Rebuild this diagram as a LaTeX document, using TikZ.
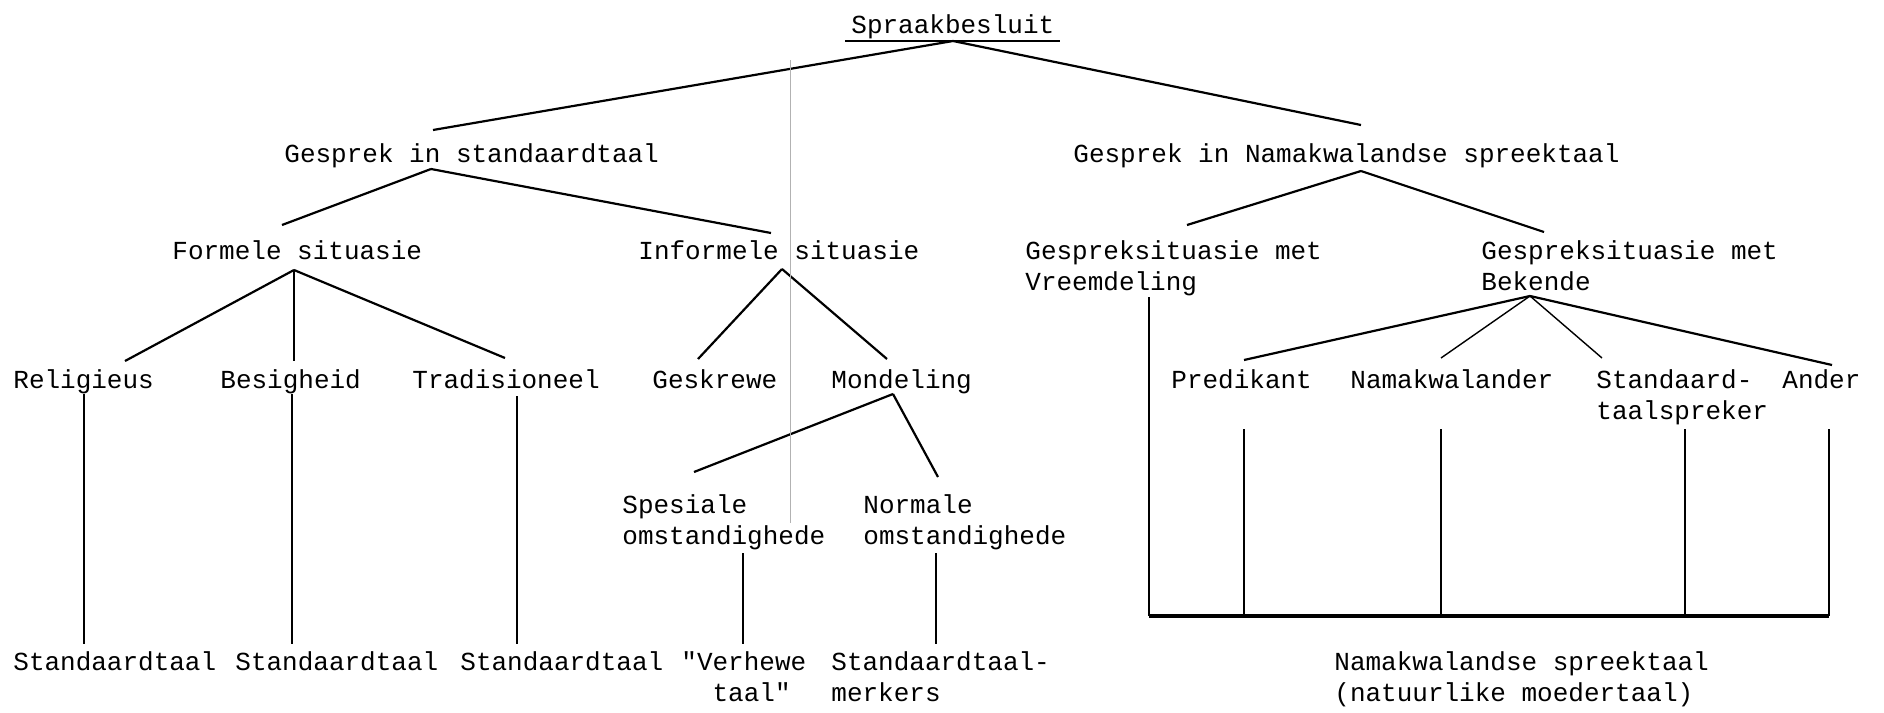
\documentclass[tikz,border=0pt]{standalone}
\usepackage{fontspec}
\setmonofont{Liberation Mono}
\begin{document}
\begin{tikzpicture}[x=0.5pt,y=-0.5pt,
  lbl/.style={anchor=base west,inner sep=0pt,font=\ttfamily\fontsize{13}{15.5}\selectfont,align=left},
  br/.style={line width=1.1pt},
  vl/.style={line width=0.7pt},
  hb/.style={line width=1.8pt},
  scan/.style={gray!60,line width=0.4pt}]
\useasboundingbox (0,0) rectangle (1884,712);
% labels (multi-line nodes: base = baseline of last line)
\node[lbl] (sb) at (851,33) {Spraakbesluit};
\node[lbl] (gs) at (284,162) {Gesprek in standaardtaal};
\node[lbl] (gn) at (1073,162) {Gesprek in Namakwalandse spreektaal};
\node[lbl] (fs) at (172,259) {Formele situasie};
\node[lbl] (is) at (638,259) {Informele situasie};
\node[lbl] (gv) at (1025,290) {Gespreksituasie met\\Vreemdeling};
\node[lbl] (gb) at (1481,290) {Gespreksituasie met\\Bekende};
\node[lbl] (re) at (13,388) {Religieus};
\node[lbl] (be) at (220,388) {Besigheid};
\node[lbl] (tr) at (412,388) {Tradisioneel};
\node[lbl] (ge) at (652,388) {Geskrewe};
\node[lbl] (mo) at (831,388) {Mondeling};
\node[lbl] (pr) at (1171,388) {Predikant};
\node[lbl] (na) at (1350,388) {Namakwalander};
\node[lbl] (st) at (1596,419) {Standaard-\\taalspreker};
\node[lbl] (an) at (1782,388) {Ander};
\node[lbl] (sp) at (622,544) {Spesiale\\omstandighede};
\node[lbl] (no) at (863,544) {Normale\\omstandighede};
\node[lbl] (r1) at (13,670) {Standaardtaal};
\node[lbl] (r2) at (235,670) {Standaardtaal};
\node[lbl] (r3) at (460,670) {Standaardtaal};
\node[lbl] (r4) at (681,701) {"Verhewe\\\phantom{xx}taal"};
\node[lbl] (r5) at (831,701) {Standaardtaal-\\merkers};
\node[lbl] (r6) at (1334,701) {Namakwalandse spreektaal\\(natuurlike moedertaal)};
% underline
\coordinate (ul-l) at (845,41); \coordinate (ul-r) at (1060,41);
\draw[line width=1.4pt] (ul-l) -- (ul-r);
% apex and end points
\coordinate (sb-a) at (953,41);
\coordinate (gs-t) at (433,130); \coordinate (gn-t) at (1361,125);
\coordinate (gs-a) at (431,169);
\coordinate (fs-t) at (282,225); \coordinate (is-t) at (771,233);
\coordinate (gn-a) at (1361,171);
\coordinate (gv-t) at (1187,225); \coordinate (gb-t) at (1544,232);
\coordinate (fs-a) at (294,270);
\coordinate (re-t) at (125,361); \coordinate (be-t) at (294,361); \coordinate (tr-t) at (505,358);
\coordinate (is-a) at (782,269);
\coordinate (ge-t) at (698,359); \coordinate (mo-t) at (887,359);
\coordinate (mo-a) at (893,394);
\coordinate (sp-t) at (694,472); \coordinate (no-t) at (938,477);
\coordinate (gb-a) at (1530,296);
\coordinate (pr-t) at (1244,360); \coordinate (na-t) at (1441,358);
\coordinate (st-t) at (1602,358); \coordinate (an-t) at (1832,365);
% branches
\draw[br] (sb-a) -- (gs-t);
\draw[br] (sb-a) -- (gn-t);
\draw[br] (gs-a) -- (fs-t);
\draw[br] (gs-a) -- (is-t);
\draw[br] (gn-a) -- (gv-t);
\draw[br] (gn-a) -- (gb-t);
\draw[br] (fs-a) -- (re-t);
\draw[vl] (fs-a) -- (be-t);
\draw[br] (fs-a) -- (tr-t);
\draw[br] (is-a) -- (ge-t);
\draw[br] (is-a) -- (mo-t);
\draw[br] (mo-a) -- (sp-t);
\draw[br] (mo-a) -- (no-t);
\draw[br] (gb-a) -- (pr-t);
\draw[vl] (gb-a) -- (na-t);
\draw[vl] (gb-a) -- (st-t);
\draw[br] (gb-a) -- (an-t);
% verticals to outcomes
\coordinate (re-b) at (84,394); \coordinate (r1-t) at (84,644);
\coordinate (be-b) at (292,394); \coordinate (r2-t) at (292,644);
\coordinate (tr-b) at (517,396); \coordinate (r3-t) at (517,644);
\coordinate (sp-b) at (743,553); \coordinate (r4-t) at (743,644);
\coordinate (no-b) at (936,553); \coordinate (r5-t) at (936,644);
\draw[vl] (re-b) -- (r1-t);
\draw[vl] (be-b) -- (r2-t);
\draw[vl] (tr-b) -- (r3-t);
\draw[vl] (sp-b) -- (r4-t);
\draw[vl] (no-b) -- (r5-t);
% right collector
\coordinate (gv-b) at (1149,297); \coordinate (h-l) at (1149,616);
\coordinate (pr-b) at (1244,429); \coordinate (h-p) at (1244,616);
\coordinate (na-b) at (1441,429); \coordinate (h-n) at (1441,616);
\coordinate (st-b) at (1685,429); \coordinate (h-s) at (1685,616);
\coordinate (an-b) at (1829,429); \coordinate (h-r) at (1829,616);
\draw[vl] (gv-b) -- (h-l);
\draw[vl] (pr-b) -- (h-p);
\draw[vl] (na-b) -- (h-n);
\draw[vl] (st-b) -- (h-s);
\draw[vl] (an-b) -- (h-r);
\draw[hb] (h-l) -- (h-r);
% scan line
\coordinate (sc-t) at (790,60); \coordinate (sc-b) at (790,523);
\draw[scan] (sc-t) -- (sc-b);
\end{tikzpicture}
\end{document}
